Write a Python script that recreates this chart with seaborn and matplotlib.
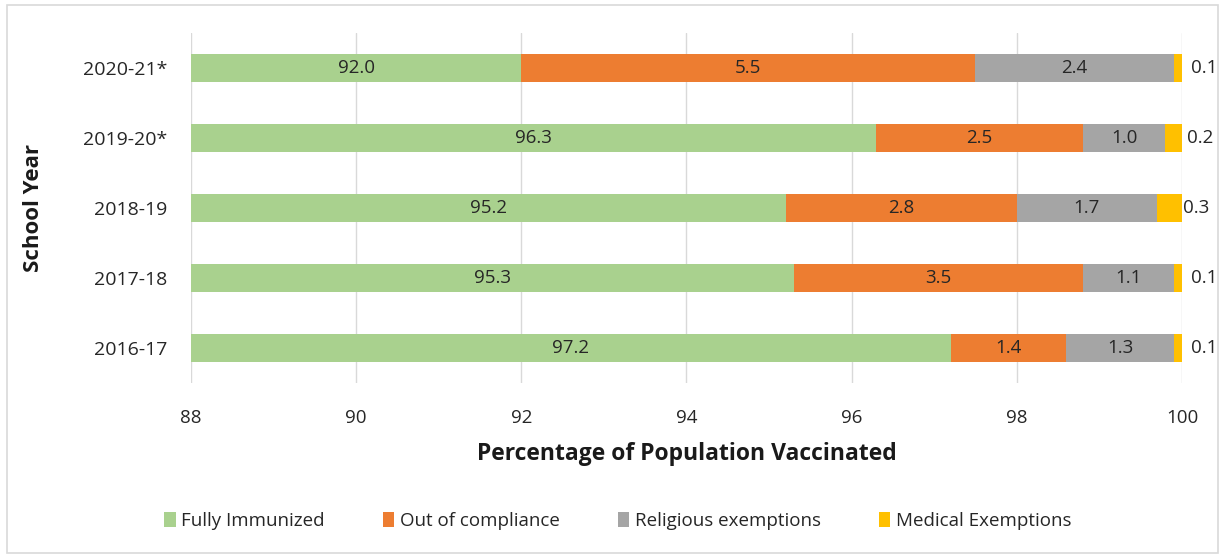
import numpy as np
import pandas as pd
import seaborn as sns
import matplotlib.pyplot as plt
from matplotlib.patches import Patch, Rectangle

# data
years = ['2020-21*', '2019-20*', '2018-19', '2017-18', '2016-17']
fully_immunized = [92.0, 96.3, 95.2, 95.3, 97.2]
out_of_compliance = [5.5, 2.5, 2.8, 3.5, 1.4]
religious = [2.4, 1.0, 1.7, 1.1, 1.3]
medical = [0.1, 0.2, 0.3, 0.1, 0.1]

series = ['Fully Immunized', 'Out of compliance', 'Religious exemptions', 'Medical Exemptions']
colors = ['#A9D18E', '#ED7D31', '#A5A5A5', '#FFC000']

sns.set_theme(style='white')
plt.rcParams['font.family'] = ['Open Sans', 'DejaVu Sans']

df = pd.DataFrame({series[0]: fully_immunized, series[1]: out_of_compliance,
                   series[2]: religious, series[3]: medical}, index=years)
cum = df.cumsum(axis=1)

fig = plt.figure(figsize=(12.21, 5.56), dpi=100)
ax = fig.add_axes([0.1564, 0.311, 0.8116, 0.6296])

# stacked bars: draw cumulative totals from the back to the front
for col, c in reversed(list(zip(series, colors))):
    sns.barplot(x=cum[col].values, y=years, color=c, saturation=1, width=0.4,
                orient='h', linewidth=0, ax=ax)

xmin = 88
ax.set_xlim(xmin, 100)
ax.set_xticks(range(88, 101, 2))
ax.set_ylim(4.5, -0.5)
ax.grid(axis='x', color='#D9D9D9', lw=1)
ax.grid(axis='y', visible=False)
ax.set_axisbelow(True)
sns.despine(ax=ax, left=True, bottom=True)
ax.tick_params(axis='x', length=0, pad=18.5, labelsize=13.5, labelcolor='#262626')
ax.tick_params(axis='y', length=0, pad=17, labelsize=14, labelcolor='#262626')

ax.set_xlabel('Percentage of Population Vaccinated', fontsize=16.5, fontweight='bold',
              color='#1a1a1a', labelpad=11)
ax.set_ylabel('School Year', fontsize=16, fontweight='bold', color='#1a1a1a', labelpad=28)

# value labels
for i, yr in enumerate(years):
    for col in series:
        v = df.loc[yr, col]
        end = cum.loc[yr, col]
        start = end - v
        if col == series[0]:
            ax.text((xmin + end) / 2, i, f'{v:.1f}', ha='center', va='center',
                    fontsize=13.5, color='#262626')
        elif col == series[3]:
            ax.annotate(f'{v:.1f}', ((start + end) / 2, i), xytext=(19, 0),
                        textcoords='offset points', ha='center', va='center',
                        fontsize=13.5, color='#262626', annotation_clip=False)
        else:
            ax.text((start + end) / 2, i, f'{v:.1f}', ha='center', va='center',
                    fontsize=13.5, color='#262626')

handles = [Patch(facecolor=c, edgecolor='none', label=s) for s, c in zip(series, colors)]
fig.legend(handles=handles, loc='center', bbox_to_anchor=(0.506, 0.063), ncol=4,
           frameon=False, fontsize=13.5, handlelength=0.6, handleheight=0.9,
           handletextpad=0.3, columnspacing=3.1, labelcolor='#262626')

fig.patches.append(Rectangle((0.0057, 0.005), 0.992, 0.986, transform=fig.transFigure,
                             fill=False, edgecolor='#D9D9D9', lw=1.2))

fig.savefig('out.png', dpi=100)
